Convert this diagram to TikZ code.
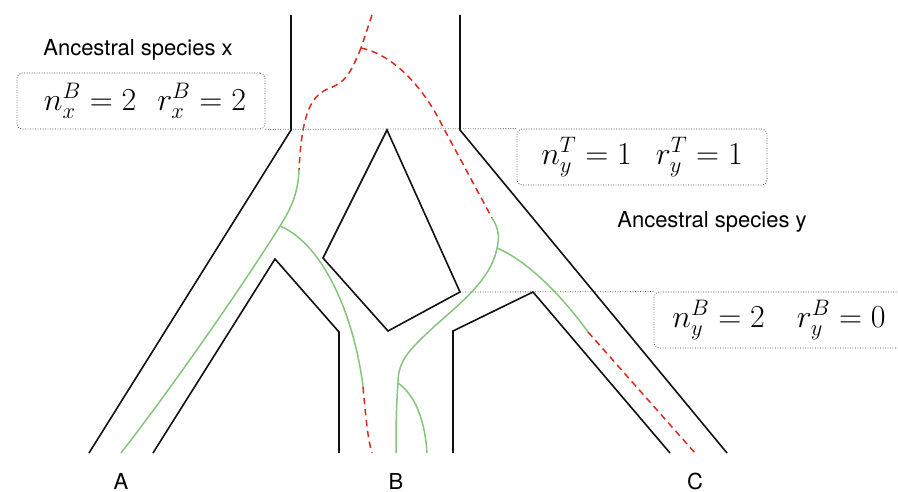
\RequirePackage{fix-cm}
\documentclass[tikz,border=0pt]{standalone}
\usepackage{fontspec}
\setsansfont{TeX Gyre Heros}
\usepackage{xcolor}
\usepackage{amsmath}
\usepackage{tikz}
\definecolor{treeInk}{HTML}{111111}
\definecolor{geneGreen}{HTML}{86C47C}
\definecolor{geneRed}{HTML}{E0271C}
\definecolor{sliceLine}{HTML}{4A4A4A}

\begin{document}
\begin{tikzpicture}[x=1pt,y=-1pt, every node/.style={font=\sffamily\fontsize{22}{26}\selectfont},
  species/.style={draw=treeInk, line width=1.6pt},
  gene/.style={draw=geneGreen, line width=1.5pt},
  lost/.style={draw=geneRed, line width=1.5pt, dash pattern=on 6.5pt off 4.5pt},
  slice/.style={draw=sliceLine, line width=0.8pt, dash pattern=on 0.8pt off 1.7pt},
  countbox/.style={slice, rounded corners=5pt, inner sep=0pt, font=\fontsize{32}{38}\selectfont}]
  \useasboundingbox (0,0) rectangle (898,492);
  % species tree
  \draw[species] (291,15) -- (291,130) -- (89,453);
  \draw[species] (460,15) -- (460,130) -- (727,453);
  \draw[species] (153,453) -- (275,259) -- (339,332) -- (339,453);
  \draw[species] (453,453) -- (453,331) -- (533,292) -- (670,453);
  \draw[species] (387,130) -- (460,292) -- (388,331) -- (323,258) -- cycle;
  % counts at the time slices
  \node[countbox, minimum width=248pt, minimum height=56pt] (boxXB) at (141,101) {\hspace{8pt}$n_x^B = 2\hspace{0.65em}r_x^B = 2$};
  \node[countbox, minimum width=250pt, minimum height=56pt] (boxYT) at (642,157) {$n_y^T = 1\hspace{0.75em}r_y^T = 1$\hspace{8pt}};
  \node[countbox, minimum width=250pt, minimum height=56pt] (boxYB) at (779,320) {$n_y^B = 2\hspace{1em}r_y^B = 0$\hspace{14pt}};
  \draw[slice] (boxXB.south east) -- (boxYT.north west);
  \draw[slice] (460,292) -- (boxYB.north west);
  \node (lblX) at (138,50) {Ancestral species x};
  \node (lblY) at (712,222) {Ancestral species y};
  \foreach \x/\leaf in {121/A,396/B,695/C} {
    \node[inner sep=0pt] (tip\leaf) at (\x,481) {\leaf};
  }
  % gene tree
  \coordinate (jRoot) at (361,48);
  \coordinate (jA) at (280,226);
  \coordinate (jC) at (497,248);
  \coordinate (jB) at (398,383);
  \draw[lost] (372,15) -- (jRoot);
  \draw[lost] (jRoot) .. controls (350,75) and (345,82) .. (330,88) .. controls (312,95) and (302,110) .. (299,170) coordinate (lEnd);
  \draw[gene] (lEnd) .. controls (298,195) and (290,210) .. (jA);
  \draw[gene] (jA) .. controls (240,290) and (170,390) .. (121,453);
  \draw[gene] (jA) .. controls (325,245) and (355,320) .. (363,387) coordinate (bLost);
  \draw[lost] (bLost) .. controls (366,420) and (368,440) .. (372,453);
  \draw[lost] (jRoot) .. controls (395,55) and (425,90) .. (443,127) -- (492,218) coordinate (rEnd);
  \draw[gene] (rEnd) .. controls (500,230) and (499,240) .. (jC);
  \draw[gene] (jC) .. controls (530,262) and (565,300) .. (588,332) coordinate (cLost);
  \draw[lost] (cLost) -- (695,453);
  \draw[gene] (jC) .. controls (490,285) and (450,310) .. (420,340) .. controls (405,355) and (398,365) .. (jB);
  \draw[gene] (jB) .. controls (396,410) and (396,430) .. (396,453);
  \draw[gene] (jB) .. controls (415,395) and (425,420) .. (427,453);
\end{tikzpicture}
\end{document}
